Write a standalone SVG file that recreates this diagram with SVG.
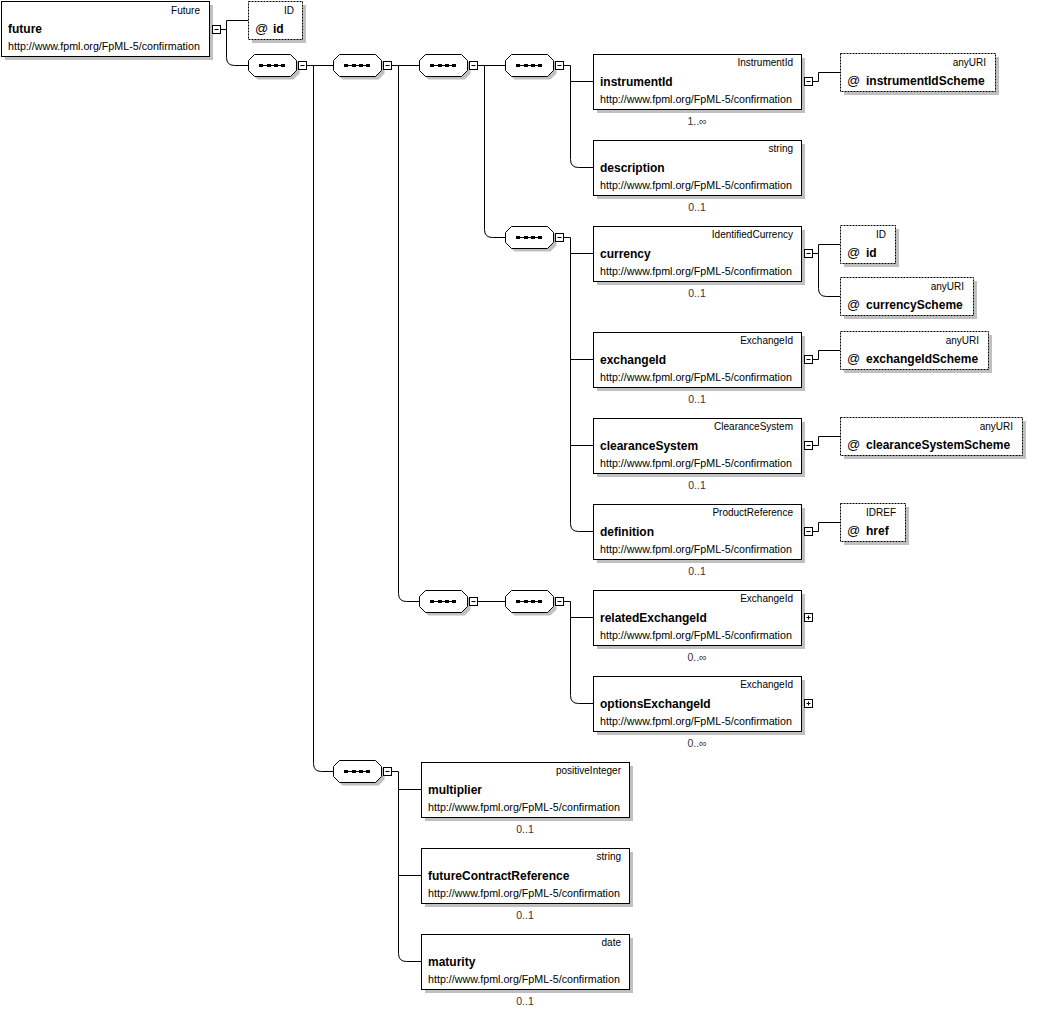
<svg xmlns="http://www.w3.org/2000/svg" xmlns:xlink="http://www.w3.org/1999/xlink" width="1063" height="1011" viewBox="0 0 1063 1011">
<style>
text{font-family:"Liberation Sans",Arial,sans-serif;fill:#000}
.sh{fill:#c0c0c0}
.box{fill:#fff;stroke:#000;stroke-width:1}
.attr{fill:#fff;stroke:#000;stroke-width:1;stroke-dasharray:2 1}
.ty{font-size:10px;text-anchor:end}
.nm{font-size:12px;font-weight:bold}
.url{font-size:10.7px}
.oc{font-size:10.5px;text-anchor:middle;fill:#333}
.at{font-size:13px}
.conn{fill:none;stroke:#000;stroke-width:1}
.mb{fill:#fff;stroke:#000;stroke-width:1}
.mk{fill:none;stroke:#000;stroke-width:1}
</style>
<defs>
<g id="seq">
<path class="sh" d="M9,-8 H45 L51,-2 V8 L45,14 H9 L3,8 V-2 Z"/>
<path fill="#fff" stroke="#000" d="M6,-11 H42 L48,-5 V5 L42,11 H6 L0,5 V-5 Z"/>
<rect x="10.5" y="-0.5" width="26" height="1" fill="#000"/>
<rect x="10.5" y="-1.5" width="4" height="3" fill="#000"/>
<rect x="18.5" y="-1.5" width="4" height="3" fill="#000"/>
<rect x="25.5" y="-1.5" width="4" height="3" fill="#000"/>
<rect x="32.5" y="-1.5" width="4" height="3" fill="#000"/>
</g>
<g id="minus">
<rect class="mb" x="0" y="-4" width="8" height="8"/>
<path class="mk" d="M2,0 H6"/>
</g>
<g id="plus">
<rect class="mb" x="0" y="-4" width="8" height="8"/>
<path class="mk" d="M2,0 H6 M4,-2 V2"/>
</g>
</defs>

<g id="connectors">
<path class="conn" d="M220.5,29.5 H226.5 M248,20.5 H226.5 V57.5 Q226.5,65.5 234.5,65.5 H248"/>
<path class="conn" d="M306.5,65.5 H333 M313.5,65.5 V763.5 Q313.5,771.5 321.5,771.5 H333"/>
<path class="conn" d="M391.5,65.5 H419 M398.5,65.5 V593.5 Q398.5,601.5 406.5,601.5 H419"/>
<path class="conn" d="M477.5,65.5 H505 M484.5,65.5 V229.5 Q484.5,237.5 492.5,237.5 H505"/>
<path class="conn" d="M563.5,65.5 H570.5 V159.5 Q570.5,167.5 578.5,167.5 H593 M570.5,81.5 H593"/>
<path class="conn" d="M563.5,237.5 H570.5 V523.5 Q570.5,531.5 578.5,531.5 H593 M570.5,253.5 H593 M570.5,359.5 H593 M570.5,445.5 H593"/>
<path class="conn" d="M477.5,601.5 H505"/>
<path class="conn" d="M563.5,601.5 H570.5 V695.5 Q570.5,703.5 578.5,703.5 H593 M570.5,617.5 H593"/>
<path class="conn" d="M391.5,771.5 H398.5 V953.5 Q398.5,961.5 406.5,961.5 H421 M398.5,789.5 H421 M398.5,875.5 H421"/>
<path class="conn" d="M812.5,81.5 H818.5 V72.5 H840"/>
<path class="conn" d="M812.5,253.5 H818.5 V244.5 H840 M818.5,253.5 V288.5 Q818.5,296.5 826.5,296.5 H840"/>
<path class="conn" d="M812.5,359.5 H818.5 V350.5 H840"/>
<path class="conn" d="M812.5,445.5 H818.5 V436.5 H840"/>
<path class="conn" d="M812.5,531.5 H818.5 V522.5 H840"/>
</g>

<g id="sequences">
<use xlink:href="#seq" href="#seq" transform="translate(248.5,65.5)"/>
<use xlink:href="#minus" href="#minus" transform="translate(298.5,65.5)"/>
<use xlink:href="#seq" href="#seq" transform="translate(333.5,65.5)"/>
<use xlink:href="#minus" href="#minus" transform="translate(383.5,65.5)"/>
<use xlink:href="#seq" href="#seq" transform="translate(419.5,65.5)"/>
<use xlink:href="#minus" href="#minus" transform="translate(469.5,65.5)"/>
<use xlink:href="#seq" href="#seq" transform="translate(505.5,65.5)"/>
<use xlink:href="#minus" href="#minus" transform="translate(555.5,65.5)"/>
<use xlink:href="#seq" href="#seq" transform="translate(505.5,237.5)"/>
<use xlink:href="#minus" href="#minus" transform="translate(555.5,237.5)"/>
<use xlink:href="#seq" href="#seq" transform="translate(419.5,601.5)"/>
<use xlink:href="#minus" href="#minus" transform="translate(469.5,601.5)"/>
<use xlink:href="#seq" href="#seq" transform="translate(505.5,601.5)"/>
<use xlink:href="#minus" href="#minus" transform="translate(555.5,601.5)"/>
<use xlink:href="#seq" href="#seq" transform="translate(333.5,771.5)"/>
<use xlink:href="#minus" href="#minus" transform="translate(383.5,771.5)"/>
</g>

<g id="future">
<rect class="sh" x="5" y="5" width="208" height="55"/>
<rect class="box" x="1.5" y="1.5" width="208" height="55"/>
<text class="ty" x="200" y="14">Future</text>
<text class="nm" x="8" y="33">future</text>
<text class="url" x="8" y="50">http://www.fpml.org/FpML-5/confirmation</text>
<use xlink:href="#minus" href="#minus" transform="translate(212.5,29.5)"/>
</g>
<g id="future-id">
<rect class="sh" x="252" y="5" width="54" height="38"/>
<rect class="attr" x="248.5" y="1.5" width="54" height="38"/>
<text class="ty" x="294" y="14">ID</text>
<text class="at" x="255" y="33">@</text>
<text class="nm" x="273" y="33">id</text>
</g>

<g id="instrumentId">
<rect class="sh" x="597" y="58" width="208" height="55"/>
<rect class="box" x="593.5" y="54.5" width="208" height="55"/>
<text class="ty" x="793" y="66">InstrumentId</text>
<text class="nm" x="600" y="86">instrumentId</text>
<text class="url" x="600" y="103">http://www.fpml.org/FpML-5/confirmation</text>
<text class="oc" x="697" y="125">1..∞</text>
<use xlink:href="#minus" href="#minus" transform="translate(804.5,81.5)"/>
</g>
<g id="instrumentIdScheme">
<rect class="sh" x="844" y="57" width="155" height="38"/>
<rect class="attr" x="840.5" y="53.5" width="155" height="38"/>
<text class="ty" x="986" y="66">anyURI</text>
<text class="at" x="847" y="85">@</text>
<text class="nm" x="866" y="85">instrumentIdScheme</text>
</g>

<g id="description">
<rect class="sh" x="597" y="144" width="208" height="55"/>
<rect class="box" x="593.5" y="140.5" width="208" height="55"/>
<text class="ty" x="793" y="152">string</text>
<text class="nm" x="600" y="172">description</text>
<text class="url" x="600" y="189">http://www.fpml.org/FpML-5/confirmation</text>
<text class="oc" x="697" y="211">0..1</text>
</g>

<g id="currency">
<rect class="sh" x="597" y="230" width="208" height="55"/>
<rect class="box" x="593.5" y="226.5" width="208" height="55"/>
<text class="ty" x="793" y="238">IdentifiedCurrency</text>
<text class="nm" x="600" y="258">currency</text>
<text class="url" x="600" y="275">http://www.fpml.org/FpML-5/confirmation</text>
<text class="oc" x="697" y="297">0..1</text>
<use xlink:href="#minus" href="#minus" transform="translate(804.5,253.5)"/>
</g>
<g id="currency-id">
<rect class="sh" x="844" y="229" width="55" height="38"/>
<rect class="attr" x="840.5" y="225.5" width="55" height="38"/>
<text class="ty" x="886" y="238">ID</text>
<text class="at" x="847" y="257">@</text>
<text class="nm" x="866" y="257">id</text>
</g>
<g id="currencyScheme">
<rect class="sh" x="844" y="281" width="133" height="38"/>
<rect class="attr" x="840.5" y="277.5" width="133" height="38"/>
<text class="ty" x="964" y="290">anyURI</text>
<text class="at" x="847" y="309">@</text>
<text class="nm" x="866" y="309">currencyScheme</text>
</g>

<g id="exchangeId">
<rect class="sh" x="597" y="336" width="208" height="55"/>
<rect class="box" x="593.5" y="332.5" width="208" height="55"/>
<text class="ty" x="793" y="344">ExchangeId</text>
<text class="nm" x="600" y="364">exchangeId</text>
<text class="url" x="600" y="381">http://www.fpml.org/FpML-5/confirmation</text>
<text class="oc" x="697" y="403">0..1</text>
<use xlink:href="#minus" href="#minus" transform="translate(804.5,359.5)"/>
</g>
<g id="exchangeIdScheme">
<rect class="sh" x="844" y="335" width="148" height="38"/>
<rect class="attr" x="840.5" y="331.5" width="148" height="38"/>
<text class="ty" x="979" y="344">anyURI</text>
<text class="at" x="847" y="363">@</text>
<text class="nm" x="866" y="363">exchangeIdScheme</text>
</g>

<g id="clearanceSystem">
<rect class="sh" x="597" y="422" width="208" height="55"/>
<rect class="box" x="593.5" y="418.5" width="208" height="55"/>
<text class="ty" x="793" y="430">ClearanceSystem</text>
<text class="nm" x="600" y="450">clearanceSystem</text>
<text class="url" x="600" y="467">http://www.fpml.org/FpML-5/confirmation</text>
<text class="oc" x="697" y="489">0..1</text>
<use xlink:href="#minus" href="#minus" transform="translate(804.5,445.5)"/>
</g>
<g id="clearanceSystemScheme">
<rect class="sh" x="844" y="421" width="182" height="38"/>
<rect class="attr" x="840.5" y="417.5" width="182" height="38"/>
<text class="ty" x="1013" y="430">anyURI</text>
<text class="at" x="847" y="449">@</text>
<text class="nm" x="866" y="449">clearanceSystemScheme</text>
</g>

<g id="definition">
<rect class="sh" x="597" y="508" width="208" height="55"/>
<rect class="box" x="593.5" y="504.5" width="208" height="55"/>
<text class="ty" x="793" y="516">ProductReference</text>
<text class="nm" x="600" y="536">definition</text>
<text class="url" x="600" y="553">http://www.fpml.org/FpML-5/confirmation</text>
<text class="oc" x="697" y="575">0..1</text>
<use xlink:href="#minus" href="#minus" transform="translate(804.5,531.5)"/>
</g>
<g id="href">
<rect class="sh" x="844" y="507" width="65" height="38"/>
<rect class="attr" x="840.5" y="503.5" width="65" height="38"/>
<text class="ty" x="896" y="516">IDREF</text>
<text class="at" x="847" y="535">@</text>
<text class="nm" x="866" y="535">href</text>
</g>

<g id="relatedExchangeId">
<rect class="sh" x="597" y="594" width="208" height="55"/>
<rect class="box" x="593.5" y="590.5" width="208" height="55"/>
<text class="ty" x="793" y="602">ExchangeId</text>
<text class="nm" x="600" y="622">relatedExchangeId</text>
<text class="url" x="600" y="639">http://www.fpml.org/FpML-5/confirmation</text>
<text class="oc" x="697" y="661">0..∞</text>
<use xlink:href="#plus" href="#plus" transform="translate(804.5,617.5)"/>
</g>

<g id="optionsExchangeId">
<rect class="sh" x="597" y="680" width="208" height="55"/>
<rect class="box" x="593.5" y="676.5" width="208" height="55"/>
<text class="ty" x="793" y="688">ExchangeId</text>
<text class="nm" x="600" y="708">optionsExchangeId</text>
<text class="url" x="600" y="725">http://www.fpml.org/FpML-5/confirmation</text>
<text class="oc" x="697" y="747">0..∞</text>
<use xlink:href="#plus" href="#plus" transform="translate(804.5,703.5)"/>
</g>

<g id="multiplier">
<rect class="sh" x="425" y="766" width="208" height="55"/>
<rect class="box" x="421.5" y="762.5" width="208" height="55"/>
<text class="ty" x="621" y="774">positiveInteger</text>
<text class="nm" x="428" y="794">multiplier</text>
<text class="url" x="428" y="811">http://www.fpml.org/FpML-5/confirmation</text>
<text class="oc" x="525" y="833">0..1</text>
</g>

<g id="futureContractReference">
<rect class="sh" x="425" y="852" width="208" height="55"/>
<rect class="box" x="421.5" y="848.5" width="208" height="55"/>
<text class="ty" x="621" y="860">string</text>
<text class="nm" x="428" y="880">futureContractReference</text>
<text class="url" x="428" y="897">http://www.fpml.org/FpML-5/confirmation</text>
<text class="oc" x="525" y="919">0..1</text>
</g>

<g id="maturity">
<rect class="sh" x="425" y="938" width="208" height="55"/>
<rect class="box" x="421.5" y="934.5" width="208" height="55"/>
<text class="ty" x="621" y="946">date</text>
<text class="nm" x="428" y="966">maturity</text>
<text class="url" x="428" y="983">http://www.fpml.org/FpML-5/confirmation</text>
<text class="oc" x="525" y="1005">0..1</text>
</g>
</svg>
